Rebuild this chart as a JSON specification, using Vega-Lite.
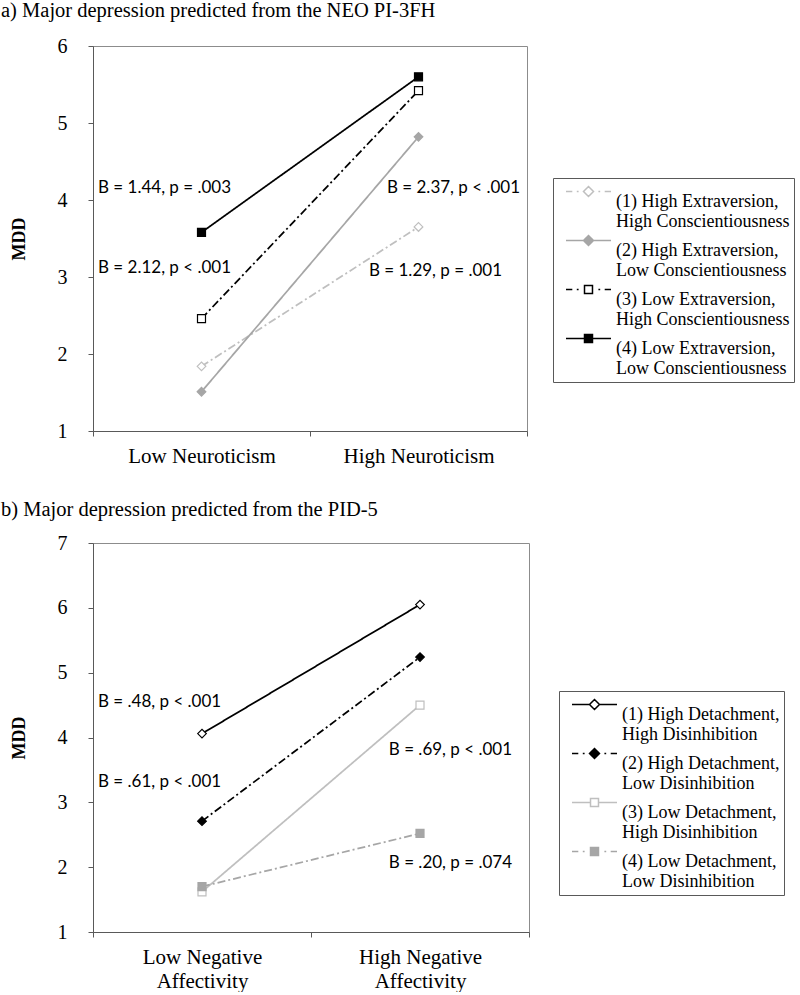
{
  "$schema": "https://vega.github.io/schema/vega-lite/v6.json",
  "background": "white",
  "padding": {"left": 0, "top": 0, "right": 0, "bottom": 0},
  "spacing": 32,
  "config": {
    "view": {"stroke": "#8c8c8c", "strokeWidth": 1},
    "axis": {"labelFont": "Liberation Serif", "labelFontSize": 20, "labelColor": "#000000", "titleFont": "Liberation Serif", "titleFontSize": 18, "titleFontWeight": "bold", "titleColor": "#000000", "domainColor": "#595959", "tickColor": "#595959", "grid": false, "tickSize": 5},
    "title": {"font": "Liberation Serif", "fontSize": 20.5, "fontWeight": "normal", "anchor": "start", "frame": "bounds", "color": "#000000"},
    "legend": {"orient": "none", "labelFont": "Liberation Serif", "labelFontSize": 18, "labelColor": "#000000", "labelLimit": 400, "symbolSize": 1444, "symbolStrokeWidth": 1.5, "symbolOpacity": 1, "strokeColor": "#595959", "fillColor": "white", "padding": 4, "symbolOffset": 8, "rowPadding": 0, "labelOffset": 11},
    "text": {"font": "Lato", "fontSize": 17, "color": "#000000"}
  },
  "resolve": {"scale": {"color": "independent", "fill": "independent", "shape": "independent", "strokeDash": "independent"}, "legend": {"color": "independent", "shape": "independent", "fill": "independent", "strokeDash": "independent"}},
  "vconcat": [
    {
      "title": {"text": "a)  Major depression predicted from the NEO PI-3FH", "dx": -9, "dy": -3, "offset": 12},
      "width": 434,
      "height": 385,
      "resolve": {"legend": {"color": "independent", "shape": "independent", "fill": "independent", "strokeDash": "independent"}},
      "data": {"values": [
        {"level": "Low Neuroticism", "series": "(1) High Extraversion, High Conscientiousness", "mdd": 1.84},
        {"level": "High Neuroticism", "series": "(1) High Extraversion, High Conscientiousness", "mdd": 3.65},
        {"level": "Low Neuroticism", "series": "(2) High Extraversion, Low Conscientiousness", "mdd": 1.51},
        {"level": "High Neuroticism", "series": "(2) High Extraversion, Low Conscientiousness", "mdd": 4.82},
        {"level": "Low Neuroticism", "series": "(3) Low Extraversion, High Conscientiousness", "mdd": 2.46},
        {"level": "High Neuroticism", "series": "(3) Low Extraversion, High Conscientiousness", "mdd": 5.42},
        {"level": "Low Neuroticism", "series": "(4) Low Extraversion, Low Conscientiousness", "mdd": 3.58},
        {"level": "High Neuroticism", "series": "(4) Low Extraversion, Low Conscientiousness", "mdd": 5.60}
      ]},
      "encoding": {
        "x": {"field": "level", "type": "nominal", "sort": ["Low Neuroticism", "High Neuroticism"], "scale": {"type": "band", "paddingInner": 0, "paddingOuter": 0}, "axis": {"title": null, "labelAngle": 0, "tickBand": "extent", "labelPadding": 9, "labelFontSize": 21}},
        "y": {"field": "mdd", "type": "quantitative", "scale": {"domain": [1, 6]}, "axis": {"title": "MDD", "values": [1, 2, 3, 4, 5, 6], "labelPadding": 21, "titlePadding": 29}}
      },
      "layer": [
        {
          "mark": {"type": "line", "strokeWidth": 1.75},
          "encoding": {
            "color": {"field": "series", "type": "nominal", "scale": {"domain": ["(1) High Extraversion, High Conscientiousness", "(2) High Extraversion, Low Conscientiousness", "(3) Low Extraversion, High Conscientiousness", "(4) Low Extraversion, Low Conscientiousness"], "range": ["#bfbfbf", "#a6a6a6", "#000000", "#000000"]}, "legend": null},
            "strokeDash": {"field": "series", "type": "nominal", "scale": {"domain": ["(1) High Extraversion, High Conscientiousness", "(2) High Extraversion, Low Conscientiousness", "(3) Low Extraversion, High Conscientiousness", "(4) Low Extraversion, Low Conscientiousness"], "range": [[8, 3, 2, 3], [1, 0], [8, 3, 2, 3], [1, 0]]}, "legend": null}
          }
        },
        {
          "transform": [{"filter": {"field": "series", "oneOf": ["(1) High Extraversion, High Conscientiousness", "(2) High Extraversion, Low Conscientiousness"]}}],
          "mark": {"type": "point", "shape": "diamond", "filled": false, "size": 75, "strokeWidth": 1.2, "opacity": 1},
          "encoding": {
            "color": {"field": "series", "type": "nominal", "legend": null},
            "fill": {"field": "series", "type": "nominal", "scale": {"domain": ["(1) High Extraversion, High Conscientiousness", "(2) High Extraversion, Low Conscientiousness", "(3) Low Extraversion, High Conscientiousness", "(4) Low Extraversion, Low Conscientiousness"], "range": ["#ffffff", "#a6a6a6", "#ffffff", "#000000"]}, "legend": null}
          }
        },
        {
          "transform": [{"filter": {"field": "series", "oneOf": ["(3) Low Extraversion, High Conscientiousness", "(4) Low Extraversion, Low Conscientiousness"]}}],
          "mark": {"type": "point", "shape": "square", "filled": false, "size": 64, "strokeWidth": 1.2, "opacity": 1},
          "encoding": {
            "color": {"field": "series", "type": "nominal", "legend": null},
            "fill": {"field": "series", "type": "nominal", "legend": null}
          }
        },
        {
          "mark": {"type": "point", "filled": false, "opacity": 0},
          "encoding": {
            "color": {"field": "series", "type": "nominal", "legend": {"title": null, "legendX": 460, "legendY": 132, "symbolOpacity": 1, "labelExpr": "[split(datum.label, ', ')[0] + ',', split(datum.label, ', ')[1]]"}},
            "fill": {"field": "series", "type": "nominal", "legend": {"title": null}},
            "shape": {"field": "series", "type": "nominal", "scale": {"domain": ["(1) High Extraversion, High Conscientiousness", "(2) High Extraversion, Low Conscientiousness", "(3) Low Extraversion, High Conscientiousness", "(4) Low Extraversion, Low Conscientiousness"], "range": ["M-1,-0.55H-0.668M-0.432,-0.55H-0.337M0.705,-0.55H0.8M1.037,-0.55H1.368M0.184,-0.813L0.447,-0.55L0.184,-0.287L-0.079,-0.55Z", "M-1,-0.55H-0.079M0.447,-0.55H1.368M0.184,-0.813L0.447,-0.55L0.184,-0.287L-0.079,-0.55Z", "M-1,-0.55H-0.668M-0.432,-0.55H-0.337M0.705,-0.55H0.8M1.037,-0.55H1.368M-0.026,-0.76H0.394V-0.34H-0.026Z", "M-1,-0.55H-0.026M0.394,-0.55H1.368M-0.026,-0.76H0.394V-0.34H-0.026Z"]}, "legend": {"title": null}}
          }
        },
        {
          "data": {"values": [
            {"level": "Low Neuroticism", "mdd": 4.16, "label": "B = 1.44, p = .003"},
            {"level": "Low Neuroticism", "mdd": 3.12, "label": "B = 2.12, p < .001"}
          ]},
          "mark": {"type": "text", "align": "left", "baseline": "middle", "dx": 5},
          "encoding": {"x": {"field": "level", "type": "nominal", "sort": ["Low Neuroticism", "High Neuroticism"], "bandPosition": 0}, "text": {"field": "label"}}
        },
        {
          "data": {"values": [
            {"level": "High Neuroticism", "mdd": 4.16, "label": "B = 2.37, p < .001"}
          ]},
          "mark": {"type": "text", "align": "right", "baseline": "middle", "dx": -7},
          "encoding": {"x": {"field": "level", "type": "nominal", "sort": ["Low Neuroticism", "High Neuroticism"], "bandPosition": 1}, "text": {"field": "label"}}
        },
        {
          "data": {"values": [
            {"level": "High Neuroticism", "mdd": 3.08, "label": "B = 1.29, p = .001"}
          ]},
          "mark": {"type": "text", "align": "right", "baseline": "middle", "dx": -25},
          "encoding": {"x": {"field": "level", "type": "nominal", "sort": ["Low Neuroticism", "High Neuroticism"], "bandPosition": 1}, "text": {"field": "label"}}
        }
      ]
    },
    {
      "title": {"text": "b) Major depression predicted from the PID-5", "dx": -9, "offset": 13},
      "width": 436,
      "height": 389,
      "resolve": {"legend": {"color": "independent", "shape": "independent", "fill": "independent", "strokeDash": "independent"}},
      "data": {"values": [
        {"level": "Low Negative Affectivity", "series": "(1) High Detachment, High Disinhibition", "mdd": 4.06},
        {"level": "High Negative Affectivity", "series": "(1) High Detachment, High Disinhibition", "mdd": 6.05},
        {"level": "Low Negative Affectivity", "series": "(2) High Detachment, Low Disinhibition", "mdd": 2.71},
        {"level": "High Negative Affectivity", "series": "(2) High Detachment, Low Disinhibition", "mdd": 5.24},
        {"level": "Low Negative Affectivity", "series": "(3) Low Detachment, High Disinhibition", "mdd": 1.62},
        {"level": "High Negative Affectivity", "series": "(3) Low Detachment, High Disinhibition", "mdd": 4.50},
        {"level": "Low Negative Affectivity", "series": "(4) Low Detachment, Low Disinhibition", "mdd": 1.70},
        {"level": "High Negative Affectivity", "series": "(4) Low Detachment, Low Disinhibition", "mdd": 2.52}
      ]},
      "encoding": {
        "x": {"field": "level", "type": "nominal", "sort": ["Low Negative Affectivity", "High Negative Affectivity"], "scale": {"type": "band", "paddingInner": 0, "paddingOuter": 0}, "axis": {"title": null, "labelAngle": 0, "tickBand": "extent", "labelPadding": 9, "labelFontSize": 21, "labelLineHeight": 24, "labelExpr": "datum.label ? split(replace(datum.label, ' Affectivity', '|Affectivity'), '|') : ''"}},
        "y": {"field": "mdd", "type": "quantitative", "scale": {"domain": [1, 7]}, "axis": {"title": "MDD", "values": [1, 2, 3, 4, 5, 6, 7], "labelPadding": 21, "titlePadding": 29}}
      },
      "layer": [
        {
          "mark": {"type": "line", "strokeWidth": 1.75},
          "encoding": {
            "color": {"field": "series", "type": "nominal", "scale": {"domain": ["(1) High Detachment, High Disinhibition", "(2) High Detachment, Low Disinhibition", "(3) Low Detachment, High Disinhibition", "(4) Low Detachment, Low Disinhibition"], "range": ["#000000", "#000000", "#bfbfbf", "#a6a6a6"]}, "legend": null},
            "strokeDash": {"field": "series", "type": "nominal", "scale": {"domain": ["(1) High Detachment, High Disinhibition", "(2) High Detachment, Low Disinhibition", "(3) Low Detachment, High Disinhibition", "(4) Low Detachment, Low Disinhibition"], "range": [[1, 0], [8, 3, 2, 3], [1, 0], [8, 3, 2, 3]]}, "legend": null}
          }
        },
        {
          "transform": [{"filter": {"field": "series", "oneOf": ["(1) High Detachment, High Disinhibition", "(2) High Detachment, Low Disinhibition"]}}],
          "mark": {"type": "point", "shape": "diamond", "filled": false, "size": 75, "strokeWidth": 1.2, "opacity": 1},
          "encoding": {
            "color": {"field": "series", "type": "nominal", "legend": null},
            "fill": {"field": "series", "type": "nominal", "scale": {"domain": ["(1) High Detachment, High Disinhibition", "(2) High Detachment, Low Disinhibition", "(3) Low Detachment, High Disinhibition", "(4) Low Detachment, Low Disinhibition"], "range": ["#ffffff", "#000000", "#ffffff", "#a6a6a6"]}, "legend": null}
          }
        },
        {
          "transform": [{"filter": {"field": "series", "oneOf": ["(3) Low Detachment, High Disinhibition", "(4) Low Detachment, Low Disinhibition"]}}],
          "mark": {"type": "point", "shape": "square", "filled": false, "size": 64, "strokeWidth": 1.2, "opacity": 1},
          "encoding": {
            "color": {"field": "series", "type": "nominal", "legend": null},
            "fill": {"field": "series", "type": "nominal", "legend": null}
          }
        },
        {
          "mark": {"type": "point", "filled": false, "opacity": 0},
          "encoding": {
            "color": {"field": "series", "type": "nominal", "legend": {"title": null, "legendX": 466, "legendY": 148, "symbolOpacity": 1, "labelExpr": "[split(datum.label, ', ')[0] + ',', split(datum.label, ', ')[1]]"}},
            "fill": {"field": "series", "type": "nominal", "legend": {"title": null}},
            "shape": {"field": "series", "type": "nominal", "scale": {"domain": ["(1) High Detachment, High Disinhibition", "(2) High Detachment, Low Disinhibition", "(3) Low Detachment, High Disinhibition", "(4) Low Detachment, Low Disinhibition"], "range": ["M-1,-0.55H-0.079M0.447,-0.55H1.368M0.184,-0.813L0.447,-0.55L0.184,-0.287L-0.079,-0.55Z", "M-1,-0.55H-0.668M-0.432,-0.55H-0.337M0.705,-0.55H0.8M1.037,-0.55H1.368M0.184,-0.813L0.447,-0.55L0.184,-0.287L-0.079,-0.55Z", "M-1,-0.55H-0.026M0.394,-0.55H1.368M-0.026,-0.76H0.394V-0.34H-0.026Z", "M-1,-0.55H-0.668M-0.432,-0.55H-0.337M0.705,-0.55H0.8M1.037,-0.55H1.368M-0.026,-0.76H0.394V-0.34H-0.026Z"]}, "legend": {"title": null}}
          }
        },
        {
          "data": {"values": [
            {"level": "Low Negative Affectivity", "mdd": 4.54, "label": "B = .48, p < .001"},
            {"level": "Low Negative Affectivity", "mdd": 3.32, "label": "B = .61, p < .001"}
          ]},
          "mark": {"type": "text", "align": "left", "baseline": "middle", "dx": 5},
          "encoding": {"x": {"field": "level", "type": "nominal", "sort": ["Low Negative Affectivity", "High Negative Affectivity"], "bandPosition": 0}, "text": {"field": "label"}}
        },
        {
          "data": {"values": [
            {"level": "High Negative Affectivity", "mdd": 3.80, "label": "B = .69, p < .001"},
            {"level": "High Negative Affectivity", "mdd": 2.07, "label": "B = .20, p = .074"}
          ]},
          "mark": {"type": "text", "align": "right", "baseline": "middle", "dx": -17},
          "encoding": {"x": {"field": "level", "type": "nominal", "sort": ["Low Negative Affectivity", "High Negative Affectivity"], "bandPosition": 1}, "text": {"field": "label"}}
        }
      ]
    }
  ]
}
